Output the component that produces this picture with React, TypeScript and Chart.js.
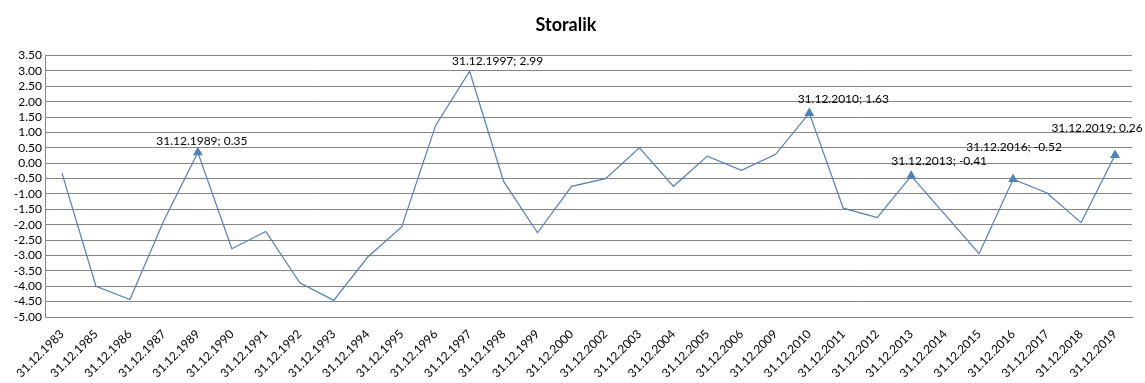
import React, { useEffect, useRef } from "react";
import { Chart, registerables } from "chart.js";

Chart.register(...registerables);

const categories = [
  "31.12.1983", "31.12.1985", "31.12.1986", "31.12.1987", "31.12.1989", "31.12.1990",
  "31.12.1991", "31.12.1992", "31.12.1993", "31.12.1994", "31.12.1995", "31.12.1996",
  "31.12.1997", "31.12.1998", "31.12.1999", "31.12.2000", "31.12.2002", "31.12.2003",
  "31.12.2004", "31.12.2005", "31.12.2006", "31.12.2009", "31.12.2010", "31.12.2011",
  "31.12.2012", "31.12.2013", "31.12.2014", "31.12.2015", "31.12.2016", "31.12.2017",
  "31.12.2018", "31.12.2019",
];

const values = [
  -0.32, -4.0, -4.43, -1.86, 0.35, -2.78,
  -2.22, -3.89, -4.46, -3.05, -2.07, 1.23,
  2.99, -0.59, -2.26, -0.75, -0.5, 0.5,
  -0.75, 0.23, -0.23, 0.28, 1.63, -1.46,
  -1.77, -0.41, -1.68, -2.94, -0.52, -0.97,
  -1.93, 0.26,
];

// indices of labelled points, and whether they show a triangle marker
const labelledIndices = [4, 12, 22, 25, 28, 31];
const markerIndices = [4, 22, 25, 28, 31];
// label offsets relative to point (style)
const labelOffsets: Record<number, [number, number]> = {
  4: [4, -11],
  12: [28, -10],
  22: [34, -14],
  25: [28, -15],
  28: [1, -32],
  31: [-18, -27],
};

const yTicks = [3.5, 3, 2.5, 2, 1.5, 1, 0.5, 0, -0.5, -1, -1.5, -2, -2.5, -3, -3.5, -4, -4.5, -5];

const FONT = "Lato, 'Open Sans', 'Liberation Sans', sans-serif";

const labelPlugin = {
  id: "pointLabels",
  afterDatasetsDraw(chart: any) {
    const ctx = chart.ctx;
    const meta = chart.getDatasetMeta(0);
    ctx.save();
    ctx.font = `12px ${FONT}`;
    ctx.fillStyle = "#000";
    ctx.textAlign = "center";
    ctx.textBaseline = "middle";
    labelledIndices.forEach((i) => {
      const el = meta.data[i];
      const off = labelOffsets[i] || [0, -12];
      const txt = `${categories[i]}; ${values[i].toFixed(2)}`;
      ctx.fillText(txt, el.x + off[0], el.y + off[1]);
    });
    ctx.restore();
  },
};

export default function App() {
  const ref = useRef<HTMLCanvasElement>(null);
  useEffect(() => {
    if (!ref.current) return;
    const chart = new Chart(ref.current, {
      type: "line",
      data: {
        labels: categories,
        datasets: [
          {
            data: values,
            borderColor: "#4F81BD",
            backgroundColor: "#4F81BD",
            borderWidth: 1.2,
            tension: 0,
            pointStyle: "triangle",
            pointRadius: values.map((_, i) => (markerIndices.includes(i) ? 4.5 : 0)),
            pointHoverRadius: 0,
          },
        ],
      },
      options: {
        responsive: false,
        animation: false,
        layout: { padding: { left: 0, right: 13, top: 0, bottom: 0 } },
        plugins: {
          legend: { display: false },
          tooltip: { enabled: false },
          title: {
            display: true,
            text: "Storalik",
            color: "#000",
            font: { family: FONT, size: 18, weight: "bold" },
            padding: { top: 14, bottom: 20 },
          },
        },
        scales: {
          x: {
            offset: true,
            grid: { display: false, drawTicks: false },
            border: { display: true, color: "#868686" },
            ticks: {
              color: "#000",
              font: { family: FONT, size: 12 },
              maxRotation: 45,
              minRotation: 45,
              autoSkip: false,
              padding: 10,
            },
            afterFit(scale: any) {
              scale.height = 66;
            },
          },
          y: {
            min: -5,
            max: 3.5,
            afterBuildTicks(scale: any) {
              scale.ticks = yTicks.map((v) => ({ value: v }));
            },
            grid: { color: "#868686", drawTicks: false },
            border: { display: true, color: "#868686" },
            ticks: {
              color: "#000",
              font: { family: FONT, size: 12 },
              padding: 3,
              autoSkip: false,
              callback: (v: any) => Number(v).toFixed(2),
            },
            afterFit(scale: any) {
              scale.width = 45;
            },
          },
        },
      },
      plugins: [labelPlugin],
    });
    return () => chart.destroy();
  }, []);
  return (
    <div style={{ position: "fixed", left: 0, top: 0, width: 1145, height: 383, background: "#fff" }}>
      <canvas ref={ref} width={1145} height={383} />
    </div>
  );
}
